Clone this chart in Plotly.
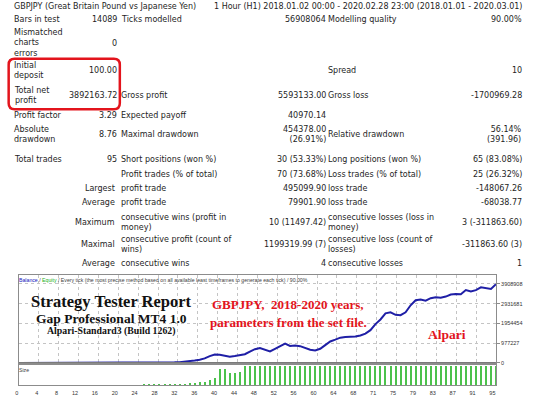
import plotly.graph_objects as go

W, H = 533, 400

# ---- report table ----
header_left = "GBPJPY (Great Britain Pound vs Japanese Yen)"
header_right = "1 Hour (H1) 2018.01.02 00:00 - 2020.02.28 23:00 (2018.01.01 - 2020.03.01)"

col1_labels = ["Bars in test", "Mismatched<br>charts<br>errors", "Initial<br>deposit", "Total net<br>profit",
               "Profit factor", "Absolute<br>drawdown", "Total trades", "", "Largest", "Average",
               "Maximum", "Maximal", "Average"]
col1_values = ["14089", "0", "100.00", "3892163.72", "3.29", "8.76", "95", "", "", "", "", "", ""]
col2_labels = ["Ticks modelled", "", "", "Gross profit", "Expected payoff", "Maximal drawdown",
               "Short positions (won %)", "Profit trades (% of total)", "profit trade", "profit trade",
               "consecutive wins (profit in<br>money)", "consecutive profit (count of<br>wins)",
               "consecutive wins"]
col2_values = ["56908064", "", "", "5593133.00", "40970.14", "454378.00<br>(26.91%)", "30 (53.33%)",
               "70 (73.68%)", "495099.90", "79901.90", "10 (11497.42)", "1199319.99 (7)", "4"]
col3_labels = ["Modelling quality", "", "Spread", "Gross loss", "", "Relative drawdown",
               "Long positions (won %)", "Loss trades (% of total)", "loss trade", "loss trade",
               "consecutive losses (loss in<br>money)", "consecutive loss (count of<br>losses)",
               "consecutive losses"]
col3_values = ["90.00%", "", "10", "-1700969.28", "", "56.14%<br>(391.96)", "65 (83.08%)",
               "25 (26.32%)", "-148067.26", "-68038.77", "3 (-311863.60)", "-311863.60 (3)", "1"]
row_y = [19.3, 43.7, 71.0, 96.7, 116.7, 135.5, 160.7, 175.7, 189.5, 204.0, 224.5, 246.3, 265.7]

# ---- balance graph ----
trade_no = list(range(0, 96))
balance = [100, 121, 138, 167, 190, 228, 262, 310, 358, 425,
           486, 575, 660, 781, 905, 1060, 1232, 1445, 1690, 1975,
           2310, 2705, 3160, 3700, 4330, 5060, 5930, 6920, 8110, 12500,
           20000, 29000, 41000, 60000, 95000, 125000, 160000, 225000, 340000, 420000,
           400000, 350000, 310000, 340000, 390000, 430000, 560000, 680000, 735000, 640000,
           570000, 700000, 850000, 960000, 840000, 860000, 830000, 740000, 650000, 620000,
           700000, 880000, 1060000, 1150000, 1250000, 1280000, 1290000, 1310000, 1360000, 1450000,
           1620000, 1920000, 2150000, 2450000, 2500000, 2380000, 2360000, 2500000, 2850000, 3100000,
           3140000, 3080000, 3200000, 3250000, 3220000, 3280000, 3380000, 3410000, 3395000, 3600000,
           3530000, 3600000, 3735000, 3700000, 3655000, 3892263.72]

size_trade = list(range(1, 96))
size_lots = [0.01, 0.01, 0.01, 0.02, 0.02, 0.02, 0.03, 0.03, 0.04, 0.04,
             0.05, 0.06, 0.07, 0.08, 0.09, 0.11, 0.12, 0.14, 0.17, 0.19,
             0.23, 0.26, 0.31, 0.36, 0.42, 0.49, 0.57, 0.67, 0.80, 2.6,
             2.6, 3.5, 3.5, 4.4, 5.3, 7.0, 8.8, 13.0, 19.3, 42.0,
             42.0, 32.5, 30.7, 35.0, 50, 50, 50, 50, 50, 50,
             50, 50, 50, 50, 50, 50, 50, 50, 50, 50,
             50, 50, 50, 50, 50, 50, 50, 50, 50, 50,
             50, 50, 50, 50, 50, 50, 50, 50, 50, 50,
             50, 50, 50, 50, 50, 50, 50, 50, 50, 50,
             50, 50, 50, 50, 50]

x_tick_labels = ["0", "4", "8", "12", "16", "20", "24", "28", "32", "36", "40", "44", "48",
                 "52", "56", "60", "64", "68", "71", "75", "79", "83", "87", "91", "95"]
y_tick_vals = [0, 977227, 1954454, 2931681, 3908908]
y_tick_labels = ["0", "977227", "1954454", "2931681", "3908908"]


def px(x):
    return x / W


def py(y):
    return 1 - y / H


ann = []


def txt(x, y, s, anchor="left", size=8, color="#1e1e1e", family="DejaVu Sans"):
    if not s:
        return
    ann.append(dict(x=px(x), y=py(y), xref="paper", yref="paper", text=s, showarrow=False,
                    xanchor=anchor, yanchor="middle", align=anchor, borderpad=0,
                    font=dict(family=family, size=size, color=color)))


txt(9.5, 6.7, header_left)
txt(210.5, 6.7, header_right)
for i, y in enumerate(row_y):
    if col1_labels[i] in ("Largest", "Average", "Maximum", "Maximal"):
        txt(113, y, col1_labels[i], anchor="right")
    else:
        txt(9.5, y, col1_labels[i])
    txt(114.5, y, col1_values[i], anchor="right")
    txt(116.5, y, col2_labels[i])
    txt(325, y, col2_values[i], anchor="right")
    txt(325.5, y, col3_labels[i])
    txt(522.5, y, col3_values[i], anchor="right")

# chart overlay texts
serif = "Liberation Serif"
txt(108, 304.0, "<b>Strategy Tester Report</b>", anchor="center", size=16.5, color="#111", family=serif)
txt(108, 321.2, "<b>Gap Professional MT4 1.0</b>", anchor="center", size=13.5, color="#111", family=serif)
txt(108, 333.6, "<b>Alpari-Standard3 (Build 1262)</b>", anchor="center", size=9.8, color="#111", family=serif)
red = "#e3141c"
txt(286, 307, "<b>GBPJPY,  2018-2020 years,</b>", anchor="center", size=13, color=red, family=serif)
txt(287, 324.7, "<b>parameters from the set file.</b>", anchor="center", size=13, color=red, family=serif)
txt(446, 337, "<b>Alpari</b>", anchor="center", size=13.5, color=red, family=serif)
txt(14, 282.3, "<span style='color:#1414c0'>Balance</span> / <span style='color:#22b022'>Equity</span>"
               " / Every tick (the most precise method based on all available least timeframes"
               " to generate each tick) / 90.00%", size=5.2, color="#404040", family="Liberation Sans")
txt(14.5, 372.5, "Size", size=5.2, color="#404040", family="Liberation Sans")

# red rounded box around deposit / net profit
x0, x1, y0, y1, r = px(4.7), px(116.7), py(59.3), py(110), 6
rx, ry = r / W, r / H
box = (f"M {x0 + rx},{y0} L {x1 - rx},{y0} Q {x1},{y0} {x1},{y0 - ry} "
       f"L {x1},{y1 + ry} Q {x1},{y1} {x1 - rx},{y1} L {x0 + rx},{y1} "
       f"Q {x0},{y1} {x0},{y1 + ry} L {x0},{y0 - ry} Q {x0},{y0} {x0 + rx},{y0} Z")

grid_vals = [i * 95 / 24 for i in range(25)]

fig = go.Figure()
fig.add_trace(go.Scatter(x=trade_no, y=balance, mode="lines", xaxis="x", yaxis="y",
                         line=dict(color="#1f1fa6", width=2), hoverinfo="skip"))
fig.add_trace(go.Bar(x=size_trade, y=size_lots, xaxis="x2", yaxis="y2", width=0.25,
                     marker=dict(color="#4cc24c", line=dict(width=0)), hoverinfo="skip"))

dom_x = [px(15), px(495.7)]
fig.update_layout(
    width=W, height=H, autosize=False,
    margin=dict(l=0, r=0, t=0, b=0),
    paper_bgcolor="white", plot_bgcolor="white",
    showlegend=False, bargap=0,
    xaxis=dict(domain=dom_x, anchor="y", range=[0, 95], tickvals=grid_vals, showticklabels=False,
               showgrid=True, griddash="dot", gridcolor="#c4c4c4", gridwidth=1,
               showline=True, mirror=True, linecolor="#8c8c8c", linewidth=1, zeroline=False,
               fixedrange=True),
    yaxis=dict(domain=[py(365.7), py(277.3)], anchor="x", range=[0, 4335000], side="right",
               tickvals=y_tick_vals, ticktext=y_tick_labels, ticks="outside", ticklen=3,
               tickcolor="#8c8c8c", tickfont=dict(family="Liberation Sans", size=5.5, color="#333"),
               showgrid=True, griddash="dot", gridcolor="#c4c4c4", gridwidth=1,
               showline=True, mirror=True, linecolor="#8c8c8c", linewidth=1, zeroline=False,
               fixedrange=True),
    xaxis2=dict(domain=dom_x, anchor="y2", range=[0, 95], tickvals=grid_vals, ticktext=x_tick_labels,
                ticks="", ticklabelposition="outside left", ticklabelstandoff=2,
                tickfont=dict(family="Liberation Sans", size=5.5, color="#333"),
                showgrid=False, showline=True, mirror=True, linecolor="#8c8c8c", linewidth=1,
                zeroline=False, fixedrange=True),
    yaxis2=dict(domain=[py(388.3), py(368)], anchor="x2", range=[0, 52.5], showticklabels=False,
                showgrid=False, showline=True, mirror=True, linecolor="#8c8c8c", linewidth=1,
                zeroline=False, fixedrange=True),
    annotations=ann,
    shapes=[
        dict(type="path", path=box, xref="paper", yref="paper", line=dict(color="#e3141c", width=2.5)),
        dict(type="line", xref="x", yref="y", x0=0, x1=95, y0=0, y1=0, line=dict(color="#7a7a7a", width=2)),
    ],
)

# page body has a default margin; drop it so the 533x400 figure fills the window
fig.write_html("out.html", config={"displayModeBar": False},
               post_script="document.body.style.margin='0';document.body.style.overflow='hidden';")
